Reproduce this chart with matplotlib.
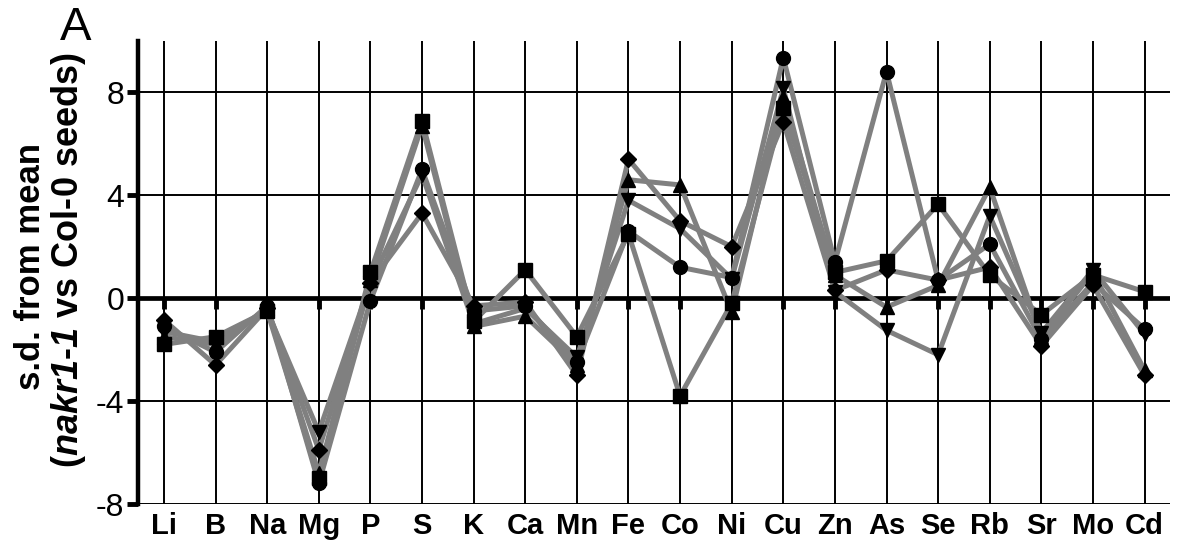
import numpy as np
import matplotlib.pyplot as plt
from matplotlib.markers import TICKDOWN

plt.rcParams['font.family'] = ['Liberation Sans', 'DejaVu Sans']
plt.rcParams['mathtext.fontset'] = 'custom'
plt.rcParams['mathtext.bfit'] = 'Liberation Sans:italic:bold'

elements = ['Li', 'B', 'Na', 'Mg', 'P', 'S', 'K', 'Ca', 'Mn', 'Fe',
            'Co', 'Ni', 'Cu', 'Zn', 'As', 'Se', 'Rb', 'Sr', 'Mo', 'Cd']

# s.d. from mean, one list per line
circle = [-1.1, -2.1, -0.3, -7.2, -0.1, 5.0, -0.5, -0.3, -2.5, 2.6,
          1.2, 0.8, 9.35, 1.4, 8.8, 0.7, 2.1, -1.6, 0.6, -1.2]
square = [-1.8, -1.5, -0.5, -7.0, 1.0, 6.9, -0.9, 1.1, -1.5, 2.5,
          -3.8, -0.2, 7.4, 1.0, 1.45, 3.65, 0.9, -0.65, 0.9, 0.25]
tri_up = [-1.5, -1.8, -0.4, -6.8, 0.7, 6.7, -1.1, -0.7, -2.6, 4.6,
          4.4, -0.55, 7.8, 0.9, -0.35, 0.5, 4.3, -1.5, 1.0, -2.8]
tri_down = [-1.3, -1.7, -0.5, -5.2, 0.6, 4.8, -1.0, -0.4, -2.3, 3.8,
            2.7, 0.75, 8.15, 0.25, -1.25, -2.2, 3.2, -1.35, 1.1, -1.4]
diamond = [-0.85, -2.6, -0.4, -5.9, 0.6, 3.3, -0.3, -0.15, -3.0, 5.4,
           3.0, 2.0, 6.85, 0.3, 1.1, 0.7, 1.2, -1.85, 0.5, -3.0]

series = [(circle, 'o', 10), (square, 's', 10), (tri_up, '^', 10),
          (tri_down, 'v', 10), (diamond, 'D', 8)]

x = np.arange(len(elements))

fig = plt.figure(figsize=(11.81, 5.44), dpi=100)
ax = fig.add_axes([0.117, 0.0735, 0.874, 0.8515])

# grey lines first, black markers on top
for vals, m, ms in series:
    ax.plot(x, vals, color='#808080', lw=3.6, zorder=3, solid_joinstyle='round')
for vals, m, ms in series:
    ax.plot(x, vals, ls='none', marker=m, ms=ms, mfc='black', mec='black',
            zorder=4, clip_on=False)

ax.axhline(0, color='black', lw=3.4, zorder=2)
ax.plot(x, np.zeros(len(x)), ls='none', marker=TICKDOWN, ms=8, mew=3.5,
        color='black', zorder=2)

ax.set_xlim(-0.5, 19.5)
ax.set_ylim(-8, 10)
ax.set_xticks(x)
ax.set_xticklabels(elements, fontsize=21, fontweight='bold')
ax.set_yticks([-8, -4, 0, 4, 8])
ax.set_yticklabels(['-8', '-4', '0', '4', '8'], fontsize=23)

for v in [-8, -4, 4, 8]:
    ax.axhline(v, color='black', lw=1.4, zorder=1)
ax.grid(True, axis='x', color='black', lw=1.4, zorder=1)
ax.set_axisbelow(True)

for s in ['top', 'right', 'bottom']:
    ax.spines[s].set_visible(False)
ax.spines['left'].set_linewidth(3.2)
ax.tick_params(axis='y', length=8, width=3.5, pad=2)
ax.tick_params(axis='x', length=0, pad=6)

fig.text(0.026, 0.511, 's.d. from mean', rotation=90, fontsize=25,
         fontweight='bold', ha='center', va='center')
fig.text(0.058, 0.522,
         '(' + r'$\mathbfit{nakr1}$' + '-' + r'$\mathbfit{1}$' + ' vs Col-0 seeds)',
         rotation=90, fontsize=26, fontweight='bold', ha='center', va='center')
fig.text(0.051, 0.926, 'A', fontsize=34, ha='left', va='baseline')

fig.savefig('out.png', dpi=100)
